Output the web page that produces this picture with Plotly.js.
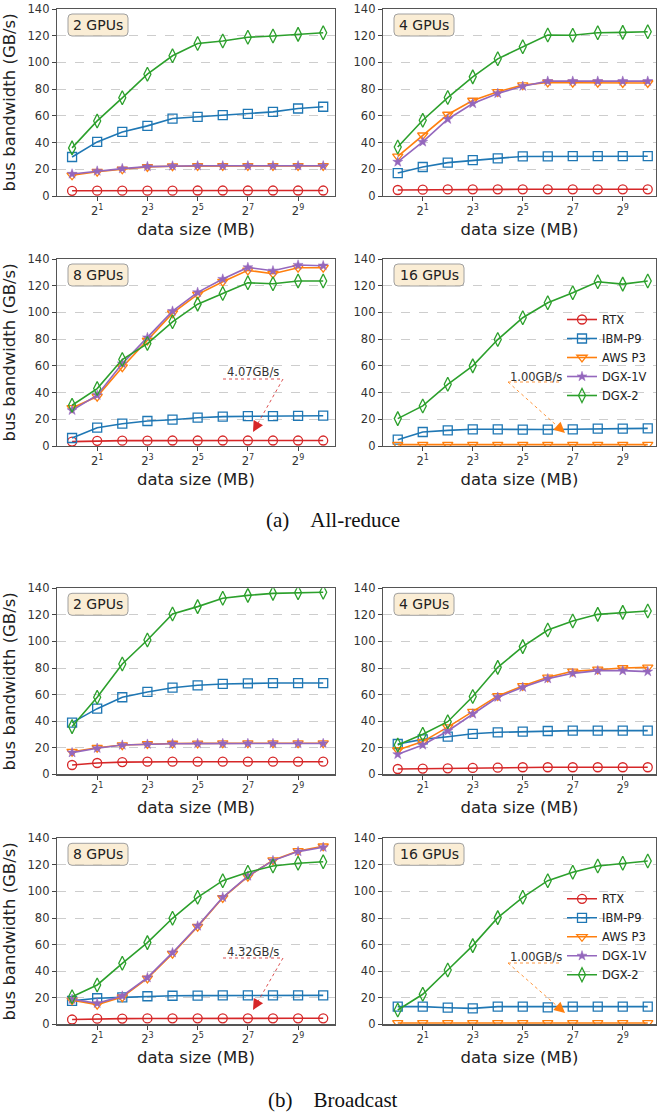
<!DOCTYPE html>
<html>
<head>
<meta charset="utf-8">
<script src="https://cdn.plot.ly/plotly-3.0.1.min.js"></script>
<style>html,body{margin:0;padding:0;background:#fff;}#chart{width:659px;height:1115px;}</style>
</head>
<body>
<div id="chart"></div>
<script>
// ---------------- DATA ----------------
const sizesMB = [1, 2, 4, 8, 16, 32, 64, 128, 256, 512, 1024];
const xTickVals = [2, 8, 32, 128, 512];
const xTickText = ['2<sup>1</sup>', '2<sup>3</sup>', '2<sup>5</sup>', '2<sup>7</sup>', '2<sup>9</sup>'];
const systems = ['RTX', 'IBM-P9', 'AWS P3', 'DGX-1V', 'DGX-2'];
const panelLabels = ['2 GPUs', '4 GPUs', '8 GPUs', '16 GPUs', '2 GPUs', '4 GPUs', '8 GPUs', '16 GPUs'];
const captions = ['(a)\u00a0\u00a0\u00a0\u00a0All-reduce', '(b)\u00a0\u00a0\u00a0\u00a0Broadcast'];
const calloutTexts = ['4.07GB/s', '1.00GB/s', '4.32GB/s', '1.00GB/s'];

// All-reduce
const ar2_RTX   = [3.9, 4.0, 4.0, 4.0, 4.0, 4.1, 4.1, 4.1, 4.1, 4.1, 4.1];
const ar2_IBM   = [29.2, 40.5, 48.0, 52.5, 58.0, 59.3, 60.5, 61.5, 63.0, 65.5, 66.8];
const ar2_AWS   = [15.5, 18.2, 20.0, 21.8, 22.3, 22.5, 22.5, 22.5, 22.5, 22.5, 22.5];
const ar2_DGX1V = [16.5, 18.7, 20.5, 22.0, 22.5, 22.6, 22.6, 22.6, 22.6, 22.6, 22.6];
const ar2_DGX2  = [36.0, 56.2, 73.5, 91.2, 105.0, 114.2, 116.0, 118.8, 119.8, 121.0, 122.2];

const ar4_RTX   = [4.5, 4.7, 4.9, 5.0, 5.0, 5.0, 5.0, 5.0, 5.0, 5.0, 5.0];
const ar4_IBM   = [17.2, 21.7, 25.0, 26.8, 28.2, 29.6, 29.7, 29.8, 29.8, 29.8, 29.8];
const ar4_AWS   = [29.7, 45.5, 61.0, 71.5, 78.0, 83.0, 85.0, 84.8, 84.8, 84.6, 84.6];
const ar4_DGX1V = [25.5, 40.5, 57.5, 69.2, 76.8, 82.2, 86.0, 86.0, 86.0, 86.0, 86.0];
const ar4_DGX2  = [36.7, 56.7, 73.7, 89.2, 102.7, 111.7, 120.5, 120.4, 122.2, 122.5, 123.0];

const ar8_RTX   = [3.3, 3.9, 4.0, 4.0, 4.1, 4.1, 4.1, 4.1, 4.1, 4.1, 4.1];
const ar8_IBM   = [6.0, 13.7, 16.7, 18.7, 19.7, 21.2, 22.0, 22.3, 22.3, 22.6, 22.7];
const ar8_AWS   = [28.5, 37.0, 59.0, 79.0, 99.5, 113.5, 123.0, 131.5, 129.0, 133.5, 133.5];
const ar8_DGX1V = [26.7, 38.0, 61.7, 81.2, 101.0, 115.0, 125.0, 133.7, 131.2, 135.5, 135.0];
const ar8_DGX2  = [30.5, 43.0, 64.7, 76.7, 93.0, 106.2, 114.2, 122.2, 121.5, 123.5, 123.5];

const ar16_RTX   = [null, null, null, null, null, null, null, null, null, null, null];
const ar16_IBM   = [4.7, 10.5, 11.7, 12.5, 12.5, 12.3, 12.3, 12.5, 13.0, 13.0, 13.2];
const ar16_AWS   = [1.0, 1.0, 1.0, 1.0, 1.0, 1.0, 1.0, 1.0, 1.0, 1.0, 1.0];
const ar16_DGX1V = [null, null, null, null, null, null, null, null, null, null, null];
const ar16_DGX2  = [20.5, 30.0, 46.2, 60.0, 79.7, 96.0, 107.2, 114.7, 123.0, 121.2, 123.5];

// Broadcast
const bc2_RTX   = [7.0, 8.5, 9.2, 9.5, 9.5, 9.5, 9.5, 9.5, 9.5, 9.5, 9.5];
const bc2_IBM   = [38.9, 49.4, 58.0, 62.0, 65.2, 67.0, 68.0, 68.5, 68.7, 68.7, 68.7];
const bc2_AWS   = [17.0, 20.0, 22.0, 22.8, 23.2, 23.3, 23.4, 23.4, 23.4, 23.4, 23.4];
const bc2_DGX1V = [16.3, 19.6, 22.0, 22.7, 23.0, 23.1, 23.2, 23.2, 23.2, 23.2, 23.2];
const bc2_DGX2  = [35.9, 58.0, 83.0, 101.1, 120.7, 126.2, 132.5, 134.7, 136.2, 136.7, 137.0];

const bc4_RTX   = [4.0, 4.3, 4.5, 4.8, 5.0, 5.3, 5.3, 5.3, 5.3, 5.3, 5.3];
const bc4_IBM   = [22.8, 26.3, 28.3, 30.5, 31.6, 32.1, 32.6, 32.9, 32.9, 32.9, 32.9];
const bc4_AWS   = [18.3, 24.6, 35.5, 47.2, 59.0, 66.5, 73.0, 77.5, 79.0, 80.0, 80.5];
const bc4_DGX1V = [15.0, 22.1, 32.6, 45.4, 58.0, 65.5, 72.0, 76.0, 78.0, 78.0, 77.3];
const bc4_DGX2  = [22.1, 30.1, 39.6, 58.5, 80.5, 96.1, 108.6, 115.4, 120.4, 121.9, 122.9];

const bc8_RTX   = [3.6, 4.2, 4.3, 4.4, 4.5, 4.5, 4.5, 4.5, 4.5, 4.5, 4.5];
const bc8_IBM   = [17.6, 19.6, 20.3, 21.1, 21.5, 21.6, 21.7, 21.8, 21.8, 21.8, 21.8];
const bc8_AWS   = [18.2, 14.8, 20.5, 34.5, 53.2, 73.5, 95.2, 111.2, 123.5, 130.5, 134.0];
const bc8_DGX1V = [18.8, 15.8, 21.3, 35.1, 53.9, 74.0, 95.6, 111.6, 123.2, 130.0, 133.2];
const bc8_DGX2  = [20.8, 29.6, 45.9, 61.5, 79.8, 95.6, 108.1, 114.4, 119.2, 121.2, 122.4];

const bc16_RTX   = [null, null, null, null, null, null, null, null, null, null, null];
const bc16_IBM   = [13.3, 13.3, 12.5, 12.0, 13.3, 13.3, 12.8, 13.3, 13.3, 13.3, 13.3];
const bc16_AWS   = [1.0, 1.0, 1.0, 1.0, 1.0, 1.0, 1.0, 1.0, 1.0, 1.0, 1.0];
const bc16_DGX1V = [null, null, null, null, null, null, null, null, null, null, null];
const bc16_DGX2  = [10.8, 22.6, 40.9, 59.2, 80.3, 95.6, 108.1, 114.4, 119.2, 121.2, 122.9];

// ---------------- STYLE / LAYOUT ----------------
const W = 659, H = 1115;
const px = x => x / W;
const py = y => 1 - y / H;
const L2 = Math.log10(2);

const colors = {'RTX': '#d62728', 'IBM-P9': '#1f77b4', 'AWS P3': '#ff7f0e', 'DGX-1V': '#9467bd', 'DGX-2': '#2ca02c'};
const symbols = {'RTX': 'circle-open', 'IBM-P9': 'square-open', 'AWS P3': 'triangle-down-open', 'DGX-1V': 'star', 'DGX-2': 'diamond-tall-open'};
const msize = {'RTX': 9, 'IBM-P9': 9, 'AWS P3': 9, 'DGX-1V': 7.5, 'DGX-2': 10};

const panels = [
  [ar2_RTX, ar2_IBM, ar2_AWS, ar2_DGX1V, ar2_DGX2],
  [ar4_RTX, ar4_IBM, ar4_AWS, ar4_DGX1V, ar4_DGX2],
  [ar8_RTX, ar8_IBM, ar8_AWS, ar8_DGX1V, ar8_DGX2],
  [ar16_RTX, ar16_IBM, ar16_AWS, ar16_DGX1V, ar16_DGX2],
  [bc2_RTX, bc2_IBM, bc2_AWS, bc2_DGX1V, bc2_DGX2],
  [bc4_RTX, bc4_IBM, bc4_AWS, bc4_DGX1V, bc4_DGX2],
  [bc8_RTX, bc8_IBM, bc8_AWS, bc8_DGX1V, bc8_DGX2],
  [bc16_RTX, bc16_IBM, bc16_AWS, bc16_DGX1V, bc16_DGX2]
];

// pixel geometry of the axes boxes
const colX = [[57, 335, -0.6, 10.47], [383, 656, -0.59, 10.33]];
const rowY = [[9, 196], [259, 446], [588.3, 774.3], [838.3, 1024.3]];

const traces = [];
const layout = {
  width: W, height: H,
  margin: {l: 0, r: 0, t: 0, b: 0},
  paper_bgcolor: '#fff', plot_bgcolor: '#fff',
  font: {family: 'DejaVu Sans', color: '#333', size: 11.5},
  showlegend: true,
  shapes: [], annotations: []
};

panels.forEach((series, i) => {
  const n = i + 1;
  const col = i % 2;
  const row = Math.floor(i / 2);
  const xa = 'xaxis' + (n === 1 ? '' : n);
  const ya = 'yaxis' + (n === 1 ? '' : n);
  const xr = 'x' + (n === 1 ? '' : n);
  const yr = 'y' + (n === 1 ? '' : n);
  const [x0, x1, e0, e1] = colX[col];
  const [y0, y1] = rowY[row];
  layout[xa] = {
    type: 'log', domain: [px(x0), px(x1)], range: [e0 * L2, e1 * L2], anchor: yr,
    tickvals: xTickVals, ticktext: xTickText,
    ticks: 'outside', ticklen: 4, tickwidth: 1, tickcolor: '#444',
    showline: true, mirror: true, linecolor: '#555', linewidth: 1.2,
    showgrid: false, zeroline: false,
    tickfont: {size: 11.5, color: '#333'},
    title: {text: 'data size (MB)', font: {size: 16.5, color: '#222'}, standoff: 6}
  };
  layout[ya] = {
    domain: [py(y1), py(y0)], range: [0, 140], anchor: xr,
    tick0: 0, dtick: 20,
    ticks: 'outside', ticklen: 4, tickwidth: 1, tickcolor: '#444',
    showline: true, mirror: true, linecolor: '#555', linewidth: 1.2,
    showgrid: true, gridcolor: '#c0c0c0', griddash: 'dash', gridwidth: 0.8,
    zeroline: false,
    tickfont: {size: 11.5, color: '#333'},
    title: col === 0 ? {text: 'bus bandwidth (GB/s)', font: {size: 16.5, color: '#222'}, standoff: 8} : {text: ''}
  };
  series.forEach((vals, k) => {
    const name = systems[k];
    const legendPanel = (n === 4 || n === 8);
    traces.push({
      type: 'scatter', mode: 'lines+markers', name: name,
      x: sizesMB, y: vals, xaxis: xr, yaxis: yr,
      showlegend: legendPanel,
      legend: n === 8 ? 'legend2' : 'legend',
      legendgroup: (n === 8 ? 'b' : 'a') + k,
      line: {color: colors[name], width: 1.6},
      marker: {
        symbol: symbols[name], size: msize[name],
        color: colors[name],
        line: {color: colors[name], width: name === 'DGX-1V' ? 0.5 : 1.3}
      },
      hoverinfo: 'x+y+name'
    });
  });

  // panel label box (rounded)
  const bw = panelLabels[i].length > 6 ? 70 : 60;
  const bx0 = x0 + 11, bx1 = bx0 + bw, by0 = y0 + 5, by1 = by0 + 22, r = 4;
  const P = (a, b) => px(a) + ',' + py(b);
  layout.shapes.push({
    type: 'path', xref: 'paper', yref: 'paper',
    path: 'M' + P(bx0 + r, by0) + ' L' + P(bx1 - r, by0) + ' Q' + P(bx1, by0) + ' ' + P(bx1, by0 + r) +
          ' L' + P(bx1, by1 - r) + ' Q' + P(bx1, by1) + ' ' + P(bx1 - r, by1) +
          ' L' + P(bx0 + r, by1) + ' Q' + P(bx0, by1) + ' ' + P(bx0, by1 - r) +
          ' L' + P(bx0, by0 + r) + ' Q' + P(bx0, by0) + ' ' + P(bx0 + r, by0) + ' Z',
    fillcolor: 'rgba(245,222,179,0.55)', line: {color: '#a0a0a0', width: 1}
  });
  layout.annotations.push({
    xref: 'paper', yref: 'paper', x: px((bx0 + bx1) / 2), y: py((by0 + by1) / 2),
    xanchor: 'center', yanchor: 'middle', text: panelLabels[i], showarrow: false,
    font: {size: 14, color: '#222'}
  });
});

// callouts: [text cx, text cy, hline x0, hline x1, hline y, arrow start x, tip x, tip y, color]
const callouts = [
  [253, 372, 223, 283, 379, 283, 253, 432, '#d62728'],
  [536, 377, 508, 560, 382, 508, 565, 433, '#ff7f0e'],
  [253, 952, 223, 283, 958, 283, 253, 1010, '#d62728'],
  [536, 957, 508, 560, 963, 508, 565, 1013, '#ff7f0e']
];
callouts.forEach((c, j) => {
  const [tx, ty, hx0, hx1, hy, sx, tipx, tipy, colr] = c;
  layout.annotations.push({
    xref: 'paper', yref: 'paper', x: px(tx), y: py(ty), xanchor: 'center', yanchor: 'middle',
    text: calloutTexts[j], showarrow: false, font: {size: 11.5, color: '#333'}
  });
  layout.shapes.push({type: 'line', xref: 'paper', yref: 'paper', x0: px(hx0), x1: px(hx1), y0: py(hy), y1: py(hy),
    line: {color: colr, width: 1, dash: 'dot'}, opacity: 0.8});
  const dx = tipx - sx, dy = tipy - hy, len = Math.hypot(dx, dy);
  const ux = dx / len, uy = dy / len;
  layout.shapes.push({type: 'line', xref: 'paper', yref: 'paper', x0: px(sx), y0: py(hy), x1: px(tipx - ux * 6), y1: py(tipy - uy * 6),
    line: {color: colr, width: 1, dash: 'dot'}, opacity: 0.8});
  layout.annotations.push({
    xref: 'paper', yref: 'paper', x: px(tipx), y: py(tipy), text: '', showarrow: true,
    arrowhead: 2, arrowsize: 1.8, arrowwidth: 1.2, arrowcolor: colr, standoff: 0,
    ax: -ux * 11, ay: -uy * 11
  });
});

// captions
layout.annotations.push({xref: 'paper', yref: 'paper', x: px(333), y: py(520), xanchor: 'center', yanchor: 'middle',
  text: captions[0], showarrow: false, font: {family: 'Liberation Serif', size: 21, color: '#111'}});
layout.annotations.push({xref: 'paper', yref: 'paper', x: px(333), y: py(1100), xanchor: 'center', yanchor: 'middle',
  text: captions[1], showarrow: false, font: {family: 'Liberation Serif', size: 21, color: '#111'}});

const legendStyle = (ytop) => ({
  x: px(562), y: py(ytop), xanchor: 'left', yanchor: 'top',
  bgcolor: 'rgba(255,255,255,0)', borderwidth: 0,
  font: {size: 11.5, color: '#222'}, tracegroupgap: 0, traceorder: 'normal'
});
layout.legend = legendStyle(305);
layout.legend2 = legendStyle(305 + 579.3);

Plotly.newPlot('chart', traces, layout, {staticPlot: true, displayModeBar: false});
</script>
</body>
</html>
